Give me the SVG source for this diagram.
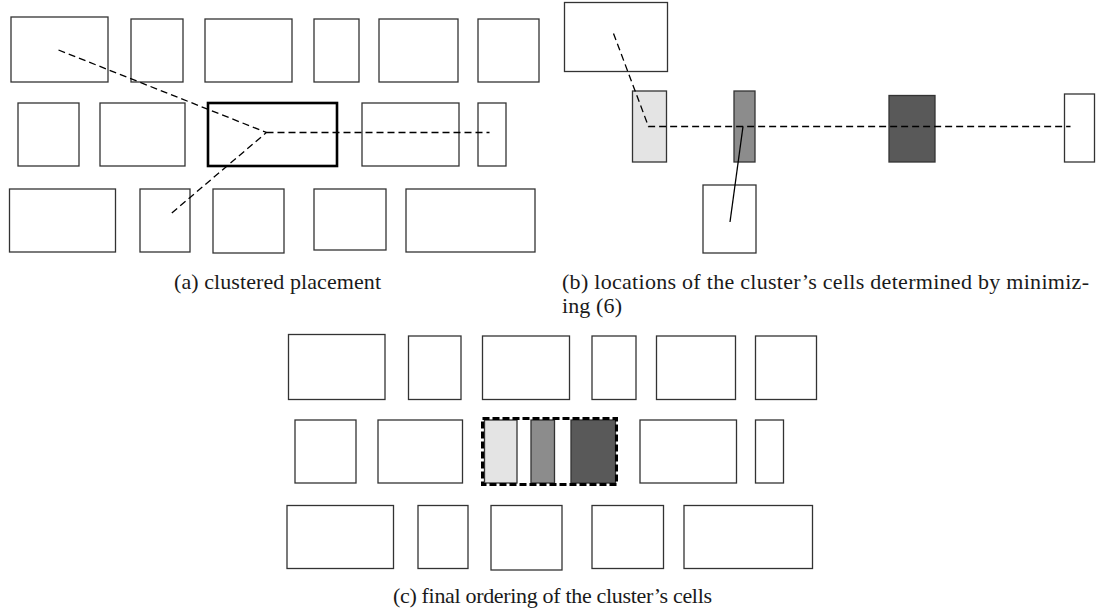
<svg xmlns="http://www.w3.org/2000/svg" width="1100" height="615" viewBox="0 0 1100 615">
<style>
.c{fill:#fff;stroke:#333;stroke-width:1.3}
.bold{fill:#fff;stroke:#000;stroke-width:2.6}
.g1{fill:#e4e4e4;stroke:#333;stroke-width:1.3}
.g2{fill:#8c8c8c;stroke:#333;stroke-width:1.3}
.g3{fill:#595959;stroke:#333;stroke-width:1.3}
.dash{fill:none;stroke:#000;stroke-width:1.3;stroke-dasharray:7,4}
.solid{fill:none;stroke:#000;stroke-width:1.3}
.clus{fill:none;stroke:#000;stroke-width:3;stroke-dasharray:7,3}
.cap{font-family:"Liberation Serif","Times New Roman",serif;font-size:22px;fill:#1a1a1a}
</style>
<rect width="1100" height="615" fill="#fff"/>
<!-- Panel (a) -->
<g id="panel-a">
<g id="a-r1c1"><rect class="c" x="11" y="17" width="97" height="65"/></g>
<g id="a-r1c2"><rect class="c" x="131" y="19" width="52" height="63"/></g>
<g id="a-r1c3"><rect class="c" x="205" y="19" width="87" height="63"/></g>
<g id="a-r1c4"><rect class="c" x="314" y="19" width="45" height="63"/></g>
<g id="a-r1c5"><rect class="c" x="379" y="19" width="79" height="63"/></g>
<g id="a-r1c6"><rect class="c" x="478" y="19" width="61" height="63"/></g>
<g id="a-r2c1"><rect class="c" x="18" y="103" width="61" height="63"/></g>
<g id="a-r2c2"><rect class="c" x="100" y="103" width="85" height="63"/></g>
<g id="a-cluster"><rect class="bold" x="208" y="103" width="129" height="63"/></g>
<g id="a-r2c4"><rect class="c" x="362" y="103" width="97" height="63"/></g>
<g id="a-r2c5"><rect class="c" x="478" y="103" width="28" height="63"/></g>
<g id="a-r3c1"><rect class="c" x="9.5" y="189" width="106" height="63"/></g>
<g id="a-r3c2"><rect class="c" x="140" y="189" width="50" height="63"/></g>
<g id="a-r3c3"><rect class="c" x="213" y="189" width="71" height="64"/></g>
<g id="a-r3c4"><rect class="c" x="314" y="189" width="72" height="61"/></g>
<g id="a-r3c5"><rect class="c" x="406" y="189" width="129" height="63"/></g>
</g>
<!-- Panel (b) -->
<g id="panel-b">
<g id="b-top"><rect class="c" x="564.5" y="2.5" width="103" height="69"/></g>
<g id="b-light"><rect class="g1" x="632.5" y="91" width="34" height="71"/></g>
<g id="b-mid"><rect class="g2" x="734" y="91" width="21" height="71"/></g>
<g id="b-bottom"><rect class="c" x="703" y="185" width="53" height="68"/></g>
<g id="b-dark"><rect class="g3" x="889" y="95.5" width="46" height="66.5"/></g>
<g id="b-right"><rect class="c" x="1064.5" y="94" width="30" height="68"/></g>
</g>
<!-- Panel (c) -->
<g id="panel-c">
<g id="c-r1c1"><rect class="c" x="288.5" y="334.5" width="96.5" height="65"/></g>
<g id="c-r1c2"><rect class="c" x="408.5" y="336" width="52.5" height="63.5"/></g>
<g id="c-r1c3"><rect class="c" x="482.5" y="336" width="87" height="63.5"/></g>
<g id="c-r1c4"><rect class="c" x="592" y="336" width="44" height="63.5"/></g>
<g id="c-r1c5"><rect class="c" x="656.5" y="336" width="79" height="63.5"/></g>
<g id="c-r1c6"><rect class="c" x="755.5" y="336" width="61" height="63.5"/></g>
<g id="c-r2c1"><rect class="c" x="295" y="420" width="61" height="63"/></g>
<g id="c-r2c2"><rect class="c" x="378" y="420" width="84.5" height="63"/></g>
<g id="c-light"><rect class="g1" x="484.5" y="420" width="32.5" height="63"/></g>
<g id="c-mid"><rect class="g2" x="531" y="420" width="23.5" height="63"/></g>
<g id="c-dark"><rect class="g3" x="571" y="420" width="44.5" height="63"/></g>
<g id="c-cluster"><rect class="clus" x="482.5" y="418.5" width="134" height="66"/></g>
<g id="c-r2c4"><rect class="c" x="640" y="420" width="96.5" height="63"/></g>
<g id="c-r2c5"><rect class="c" x="755.5" y="420" width="28" height="63"/></g>
<g id="c-r3c1"><rect class="c" x="287" y="505.5" width="106.5" height="63"/></g>
<g id="c-r3c2"><rect class="c" x="418" y="505.5" width="50" height="63"/></g>
<g id="c-r3c3"><rect class="c" x="491" y="505.5" width="71" height="64.5"/></g>
<g id="c-r3c4"><rect class="c" x="592" y="505.5" width="71.5" height="63"/></g>
<g id="c-r3c5"><rect class="c" x="684" y="505.5" width="128.5" height="63"/></g>
</g>
<!-- Connectors -->
<g id="connectors">
<polyline class="dash" points="58.5,50 266.5,132.5 170,214.5"/>
<line class="dash" x1="266.5" y1="132.5" x2="489.5" y2="132.5"/>
<polyline class="dash" points="613.5,33.5 648.5,126.5 1070.5,126.5"/>
<line class="solid" x1="743" y1="126.5" x2="730" y2="222"/>
</g>
<!-- Captions -->
<g id="captions">
<text class="cap" x="174" y="288.5" textLength="207" lengthAdjust="spacing">(a)  clustered placement</text>
<text class="cap" x="562" y="288.5" textLength="527" lengthAdjust="spacing">(b)  locations of the cluster’s cells determined by minimiz-</text>
<text class="cap" x="562" y="313" textLength="60" lengthAdjust="spacing">ing (6)</text>
<text class="cap" x="393" y="603" textLength="319" lengthAdjust="spacing">(c)  final ordering of the cluster’s cells</text>
</g>
</svg>
